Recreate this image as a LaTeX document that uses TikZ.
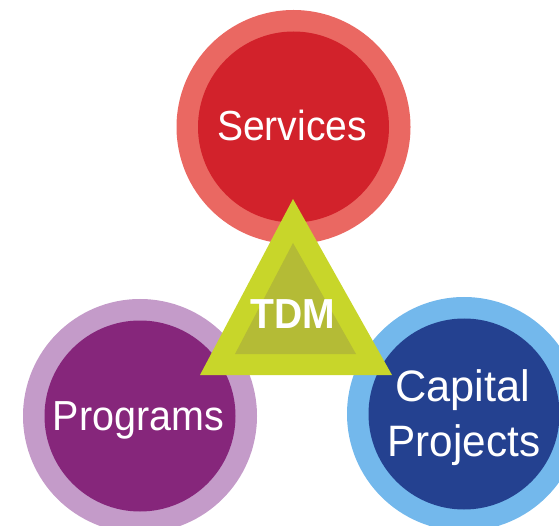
\documentclass[tikz,border=0pt]{standalone}
\usepackage{fontspec}
\setmainfont{Liberation Sans}
\definecolor{svcOut}{HTML}{EA6862}
\definecolor{svcIn}{HTML}{D2222B}
\definecolor{prgOut}{HTML}{C49BC9}
\definecolor{prgIn}{HTML}{86267B}
\definecolor{capOut}{HTML}{73B8EC}
\definecolor{capIn}{HTML}{244190}
\definecolor{triOut}{HTML}{C8D62A}
\definecolor{triIn}{HTML}{B4BB36}
\begin{document}
\begin{tikzpicture}[x=1pt,y=-1pt,
  ring/.style={circle,inner sep=0pt,minimum size=234pt},
  core/.style={circle,inner sep=0pt,minimum size=191pt},
  lbl/.style={text=white,font=\fontsize{42}{50}\selectfont,anchor=base,inner sep=0pt},
  biglbl/.style={lbl,font=\fontsize{44}{54}\selectfont},
  boldlbl/.style={lbl,font=\fontsize{42}{50}\selectfont\bfseries}]
\useasboundingbox (0,0) rectangle (559,526);
\clip (0,0) rectangle (559,526);
% Services
\node[ring,fill=svcOut] (svcO) at (293.5,127) {};
\node[core,fill=svcIn] (svcI) at (svcO) {};
% Programs
\node[ring,fill=prgOut] (prgO) at (140,416) {};
\node[core,fill=prgIn] (prgI) at (prgO) {};
% Capital Projects
\node[ring,fill=capOut] (capO) at (464,414) {};
\node[core,fill=capIn] (capI) at (capO) {};
% Triangle
\coordinate (tA) at (293,199);
\coordinate (tL) at (200,375);
\coordinate (tR) at (392,375);
\coordinate (iA) at (293,243);
\coordinate (iL) at (235,354);
\coordinate (iR) at (356,354);
\fill[triOut] (tA) -- (tL) -- (tR) -- cycle;
\fill[triIn] (iA) -- (iL) -- (iR) -- cycle;
% Labels
\node[lbl] (svcT) at (292,140.7) {\scalebox{0.93}[1]{Services}};
\node[lbl] (prgT) at (138.5,430.7) {\scalebox{0.94}[1]{Programs}};
\node[biglbl] (capT1) at (462.5,401.7) {\scalebox{0.985}[1]{Capital}};
\node[biglbl] (capT2) at (464,456) {\scalebox{0.96}[1]{Projects}};
\node[boldlbl] (tdmT) at (293,328) {\scalebox{0.93}[1]{TDM}};
\end{tikzpicture}
\end{document}
